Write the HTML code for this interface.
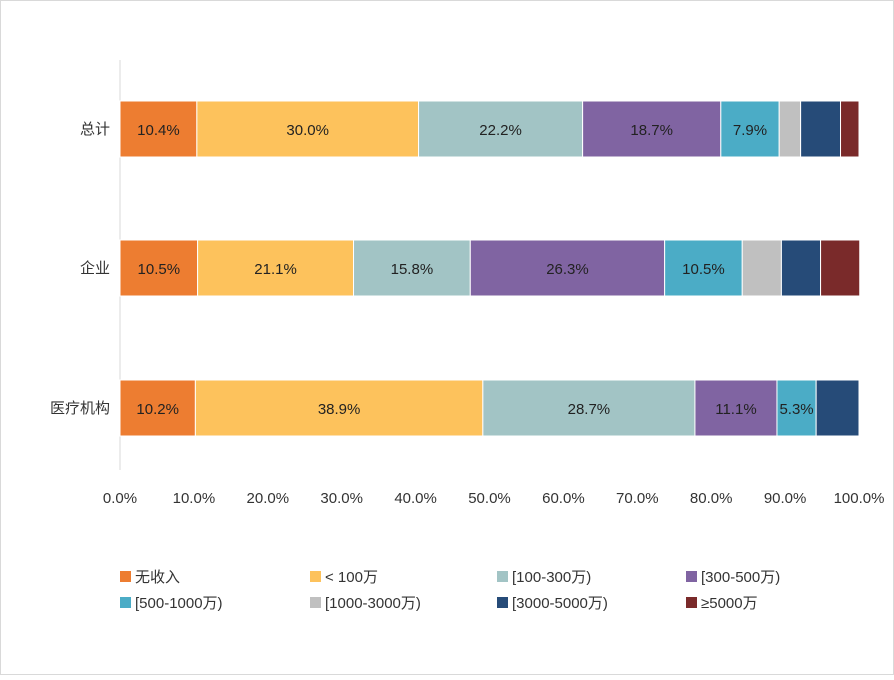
<!DOCTYPE html>
<html><head><meta charset="utf-8"><style>
body{margin:0;background:#fff;}
svg text{font-family:"Liberation Sans","Noto Sans CJK SC",sans-serif;}
</style></head><body>
<svg width="894" height="675">
<rect x="0.5" y="0.5" width="893" height="674" fill="#fff" stroke="#d9d9d9"/>
<g id="plot"></g>
<g id="legend"></g>
</svg>
<script>
const categories=["总计","企业","医疗机构"];
const seriesNames=["无收入","< 100万","[100-300万)","[300-500万)","[500-1000万)","[1000-3000万)","[3000-5000万)","≥5000万"];
const seriesColors=["#ED7D31","#FDC25C","#A2C4C5","#8064A2","#4BACC6","#C0C0C0","#264B78","#7A2A2A"];
const row0=[10.4,30.0,22.2,18.7,7.9,2.9,5.4,2.5];
const row1=[10.5,21.1,15.8,26.3,10.5,5.3,5.3,5.3];
const row2=[10.2,38.9,28.7,11.1,5.3,0,5.8,0];
const rows=[row0,row1,row2];
const ticks=[0,10,20,30,40,50,60,70,80,90,100];
const NS="http://www.w3.org/2000/svg";
const x0=120,x1=859;
const xs=v=>x0+(x1-x0)*v/100;
const rowY=[101,240,380],barH=56;
const ys=i=>rowY[i];
const plot=document.getElementById('plot');
function mk(t,a,p){const e=document.createElementNS(NS,t);for(const k in a)e.setAttribute(k,a[k]);p.appendChild(e);return e;}
const ax=mk('line',{x1:x0,y1:60,x2:x0,y2:470,stroke:'#d9d9d9'},plot);


ticks.forEach(t=>{const tx=mk('text',{x:xs(t),y:503,'text-anchor':'middle','font-size':15,fill:'#333'},plot);tx.textContent=t.toFixed(1)+'%';

});
categories.forEach((c,i)=>{
 const y=ys(i);
 const lb=mk('text',{x:110,y:y+barH/2+5,'text-anchor':'end','font-size':15,fill:'#333'},plot);lb.textContent=c;
 
 
 let acc=0;
 rows[i].forEach((v,j)=>{
  if(v<=0)return;
  const r=mk('rect',{x:xs(acc),y:y,width:xs(acc+v)-xs(acc),height:barH,fill:seriesColors[j],stroke:'#fff','stroke-width':1},plot);
  
  
  if(j<5){const t=mk('text',{x:(xs(acc)+xs(acc+v))/2,y:y+barH/2+6,'text-anchor':'middle','font-size':15,fill:'#222'},plot);t.textContent=v.toFixed(1)+'%';
  
  }
  acc+=v;
 });
});
const lg=document.getElementById('legend');
const lx=[120,310,497,686],ly=[577,603];
seriesNames.forEach((n,k)=>{
 const x=lx[k%4],y=ly[Math.floor(k/4)];
 const s=mk('rect',{x:x,y:y-6,width:11,height:11,fill:seriesColors[k]},lg);
 
 
 const t=mk('text',{x:x+15,y:y+5,'font-size':15,fill:'#333'},lg);t.textContent=n;
 
 
});
</script>
</body></html>
